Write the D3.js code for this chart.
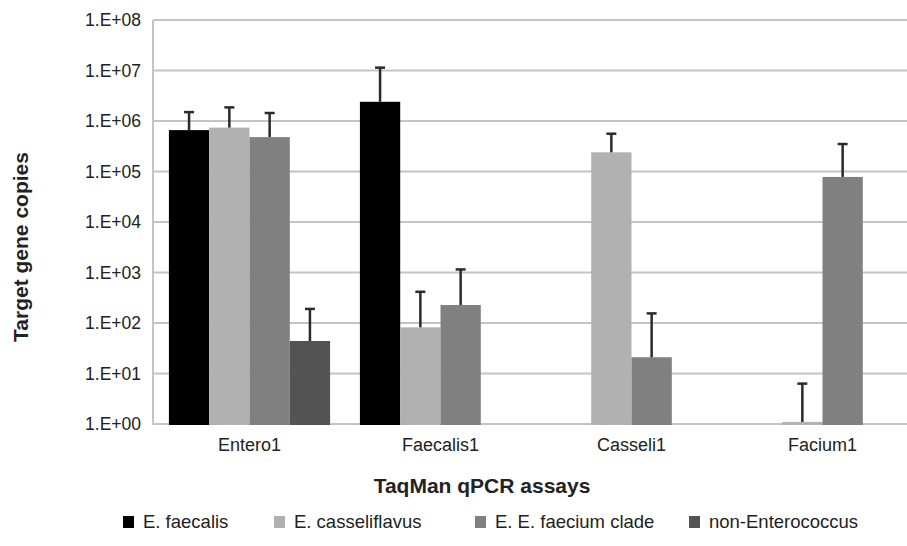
<!DOCTYPE html>
<html>
<head>
<meta charset="utf-8">
<script src="https://cdn.jsdelivr.net/npm/d3@7"></script>
<style>
  body { margin: 0; background: #fff; }
  svg { display: block; font-family: "Liberation Sans", Arial, sans-serif; }
</style>
</head>
<body>
<div id="chart"></div>
<script>
// assays on the x axis
var categories = ["Entero1", "Faecalis1", "Casseli1", "Facium1"];
var seriesNames = ["E. faecalis", "E. casseliflavus", "E. E. faecium clade", "non-Enterococcus"];
var seriesColors = ["#000000", "#b1b1b1", "#808080", "#535353"];

// mean target gene copies (null = no bar)
var faecalisVals = [660000, 2400000, null, null];
var casseliVals = [740000, 82, 240000, 1.1];
var faeciumVals = [480000, 227, 21, 78000];
var nonEnteroVals = [44, null, null, null];

// upper error (added to the mean)
var faecalisErr = [840000, 9000000, null, null];
var casseliErr = [1120000, 333, 320000, 5.2];
var faeciumErr = [960000, 923, 134, 272000];
var nonEnteroErr = [146, null, null, null];

var yTicks = [1, 10, 100, 1e3, 1e4, 1e5, 1e6, 1e7, 1e8];

var allVals = [faecalisVals, casseliVals, faeciumVals, nonEnteroVals];
var allErr = [faecalisErr, casseliErr, faeciumErr, nonEnteroErr];

var width = 907, height = 546;
var plotLeft = 153, plotRight = 918, plotTop = 20, plotBottom = 424;

var svg = d3.select("#chart").append("svg")
    .attr("width", width).attr("height", height);
svg.append("rect").attr("width", width).attr("height", height).attr("fill", "#fff");

var y = d3.scaleLog().domain([1, 1e8]).range([plotBottom, plotTop]);
var x0 = d3.scaleBand().domain(categories).range([plotLeft + 1, plotRight]);
var x1 = d3.scaleBand().domain(d3.range(seriesNames.length))
    .range([0, x0.bandwidth()]).paddingOuter(0.37);

// gridlines (the bottom one doubles as the x axis line)
svg.append("g").selectAll("line").data(yTicks).enter().append("line")
    .attr("x1", plotLeft).attr("x2", width)
    .attr("y1", function(d){ return y(d); })
    .attr("y2", function(d){ return y(d); })
    .attr("stroke", "#c4c4c4").attr("stroke-width", 2);

// y axis line
svg.append("line").attr("x1", plotLeft).attr("x2", plotLeft)
    .attr("y1", plotTop).attr("y2", plotBottom + 1)
    .attr("stroke", "#c4c4c4").attr("stroke-width", 2);

// y tick labels
var yAxis = d3.axisLeft(y).tickValues(yTicks).tickSize(0).tickPadding(12)
    .tickFormat(function(d){ return "1.E+" + d3.format("02d")(Math.round(Math.log10(d))); });
var gy = svg.append("g").attr("transform", "translate(" + plotLeft + ",0)").call(yAxis);
gy.select(".domain").remove();
gy.selectAll("text").attr("font-size", 17.5).attr("fill", "#222")
    .attr("font-family", "Liberation Sans, Arial, sans-serif");

// bars
var groups = svg.append("g").selectAll("g").data(categories).enter().append("g")
    .attr("transform", function(d){ return "translate(" + x0(d) + ",0)"; });

groups.each(function(cat, ci){
    var g = d3.select(this);
    seriesNames.forEach(function(s, si){
        var v = allVals[si][ci];
        if (v == null) return;
        var top = Math.min(y(v), y(1) - 2);
        g.append("rect")
            .attr("x", x1(si)).attr("width", x1.bandwidth())
            .attr("y", top).attr("height", y(1) - top + 1)
            .attr("fill", seriesColors[si]);
    });
});

// error bars
groups.each(function(cat, ci){
    var g = d3.select(this);
    seriesNames.forEach(function(s, si){
        var v = allVals[si][ci], e = allErr[si][ci];
        if (v == null || e == null) return;
        var cx = x1(si) + x1.bandwidth() / 2;
        g.append("line").attr("x1", cx).attr("x2", cx)
            .attr("y1", y(v)).attr("y2", y(v + e))
            .attr("stroke", "#2a2a2a").attr("stroke-width", 2.5);
        g.append("line").attr("x1", cx - 5).attr("x2", cx + 5)
            .attr("y1", y(v + e)).attr("y2", y(v + e))
            .attr("stroke", "#2a2a2a").attr("stroke-width", 2.5);
    });
});

// x axis labels
var xAxis = d3.axisBottom(x0).tickSize(0).tickPadding(14);
var gx = svg.append("g").attr("transform", "translate(0," + plotBottom + ")").call(xAxis);
gx.select(".domain").remove();
gx.selectAll("text").attr("font-size", 18).attr("fill", "#222")
    .attr("font-family", "Liberation Sans, Arial, sans-serif");

// axis titles
svg.append("text").attr("x", 482).attr("y", 493)
    .attr("text-anchor", "middle").attr("font-size", 21).attr("font-weight", "bold")
    .attr("fill", "#222").text("TaqMan qPCR assays");

svg.append("text").attr("transform", "translate(28,247) rotate(-90)")
    .attr("text-anchor", "middle").attr("font-size", 21).attr("font-weight", "bold")
    .attr("fill", "#222").text("Target gene copies");

// legend
var legendX = [123, 274, 475, 689];
var legend = svg.append("g").selectAll("g").data(seriesNames).enter().append("g")
    .attr("transform", function(d, i){ return "translate(" + legendX[i] + ",515)"; });
legend.append("rect").attr("width", 11).attr("height", 12).attr("y", 1)
    .attr("fill", function(d, i){ return seriesColors[i]; });
legend.append("text").attr("x", 20).attr("y", 13)
    .attr("font-size", 18.5).attr("fill", "#222").text(function(d){ return d; });
</script>
</body>
</html>
